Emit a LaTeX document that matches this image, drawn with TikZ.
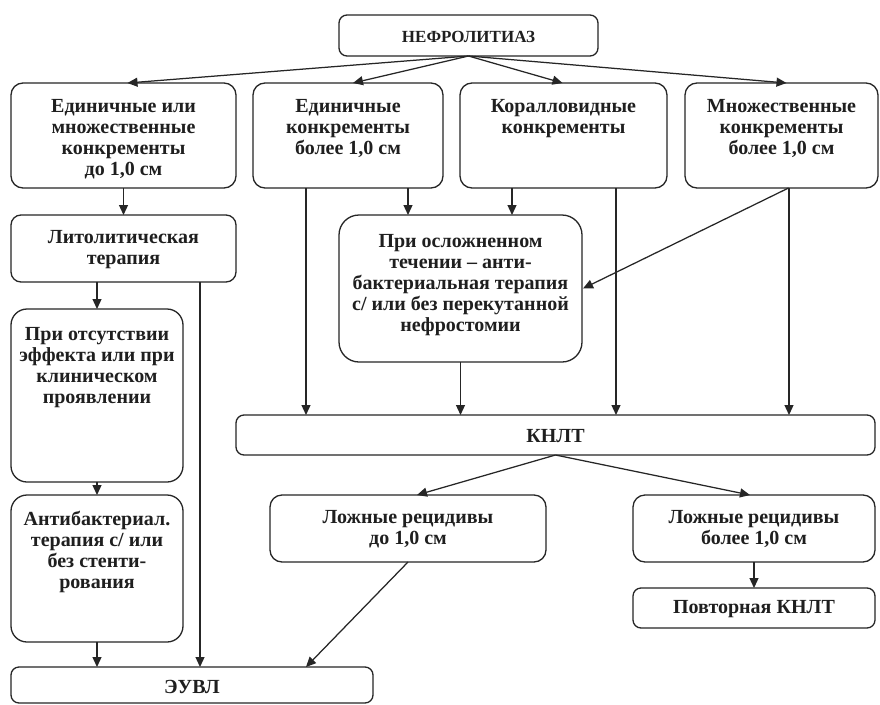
\documentclass[tikz,border=0pt]{standalone}
\usepackage{fontspec}
\setmainfont{Liberation Serif}
\usetikzlibrary{arrows.meta,calc}
\newcommand\tl[1]{\begin{tabular}[t]{@{}c@{}}#1\end{tabular}}
\newcommand\bx[8]{%
  \pgfmathsetmacro\bxw{#5-#3}\pgfmathsetmacro\bxd{#6-#4-#7}%
  \node[box,#2,anchor=north west,minimum width=\bxw pt,text height=#7pt,text depth=\bxd pt] (#1) at (#3,#4) {\tl{#8}};}
\begin{document}
\begin{tikzpicture}[x=1pt,y=-1pt,
  box/.style={draw=black!85,line width=1.3pt,text=black!88,align=center,inner xsep=0pt,inner ysep=0pt,outer sep=0pt,
     font=\fontsize{20}{21}\selectfont\bfseries,rounded corners=10pt},
  arr/.style={draw=black!85,line width=1.25pt,-{Triangle[length=10pt,width=9pt]}},
  ln/.style={draw=black!85,line width=1.25pt}]
\fill[white] (0,0) rectangle (880,704);
\useasboundingbox (0,0) rectangle (880,704);
\bx{nefro}{rounded corners=8pt,font=\fontsize{17}{20}\selectfont\bfseries}{339}{15}{598}{56}{27}{НЕФРОЛИТИАЗ}
\bx{b1}{rounded corners=12pt}{11}{83}{236}{188}{29}{Единичные или\\множественные\\конкременты\\до 1,0 см}
\bx{b2}{rounded corners=12pt}{253}{83}{443}{188}{29}{Единичные\\конкременты\\более 1,0 см}
\bx{b3}{rounded corners=12pt}{460}{83}{667}{188}{29}{Коралловидные\\конкременты}
\bx{b4}{rounded corners=12pt}{685}{83}{878}{188}{29}{Множественные\\конкременты\\более 1,0 см}
\bx{lito}{}{11}{215}{236}{282}{28}{Литолитическая\\терапия}
\bx{mid}{rounded corners=20pt}{339}{215}{582}{362}{32}{При осложненном\\течении – анти-\\бактериальная терапия\\с/ или без перекутанной\\нефростомии}
\bx{otsut}{rounded corners=16pt}{11}{309}{183}{482}{31}{При отсутствии\\эффекта или при\\клиническом\\проявлении}
\bx{antib}{rounded corners=16pt}{11}{495}{183}{642}{30}{Антибактериал.\\терапия с/ или\\без стенти-\\рования}
\bx{knlt}{rounded corners=8pt}{236}{415}{875}{455}{27}{КНЛТ}
\bx{l1}{rounded corners=12pt}{270}{495}{546}{562}{28}{Ложные рецидивы\\до 1,0 см}
\bx{l2}{rounded corners=12pt}{633}{495}{875}{562}{28}{Ложные рецидивы\\более 1,0 см}
\bx{povt}{rounded corners=8pt}{633}{588}{875}{628}{25}{Повторная КНЛТ}
\bx{evl}{rounded corners=8pt}{11}{667}{373}{703}{26}{ЭУВЛ}
% top arrows
\draw[arr] (nefro.south) -- ([xshift=4pt]b1.north);
\draw[arr] (nefro.south) -- ([xshift=5pt]b2.north);
\draw[arr] (nefro.south) -- ([xshift=-1pt]b3.north);
\draw[arr] (nefro.south) -- ([xshift=5pt]b4.north);
% left column
\draw[arr] (b1.south) -- (b1.south |- lito.north);
\draw[arr] (lito.south -| otsut.north) -- (otsut.north);
\draw[arr] (otsut.south) -- (antib.north);
\draw[arr] (antib.south) -- (antib.south |- evl.north);
\draw[arr] ([xshift=76.5pt]lito.south) -- ([xshift=76.5pt]lito.south |- evl.north);
% middle
\draw[arr] ([xshift=60pt]b2.south) -- ([xshift=60pt]b2.south |- mid.north);
\draw[arr] ([xshift=-51.5pt]b3.south) -- ([xshift=-51.5pt]b3.south |- mid.north);
\draw[arr] ([xshift=-42pt]b2.south) -- ([xshift=-42pt]b2.south |- knlt.north);
\draw[arr] ([xshift=52.5pt]b3.south) -- ([xshift=52.5pt]b3.south |- knlt.north);
\draw[arr] ([xshift=7.5pt]b4.south) -- ([xshift=7.5pt]b4.south |- knlt.north);
\draw[arr] ([xshift=7pt]b4.south) -- ([xshift=1pt]mid.east);
\draw[arr] (mid.south) -- (mid.south |- knlt.north);
% bottom
\draw[arr] (knlt.south) -- ([xshift=9pt]l1.north);
\draw[arr] (knlt.south) -- ([xshift=-4pt]l2.north);
\draw[arr] (l2.south) -- (povt.north);
\draw[arr] (l1.south) -- ([xshift=114pt]evl.north);
\end{tikzpicture}
\end{document}
